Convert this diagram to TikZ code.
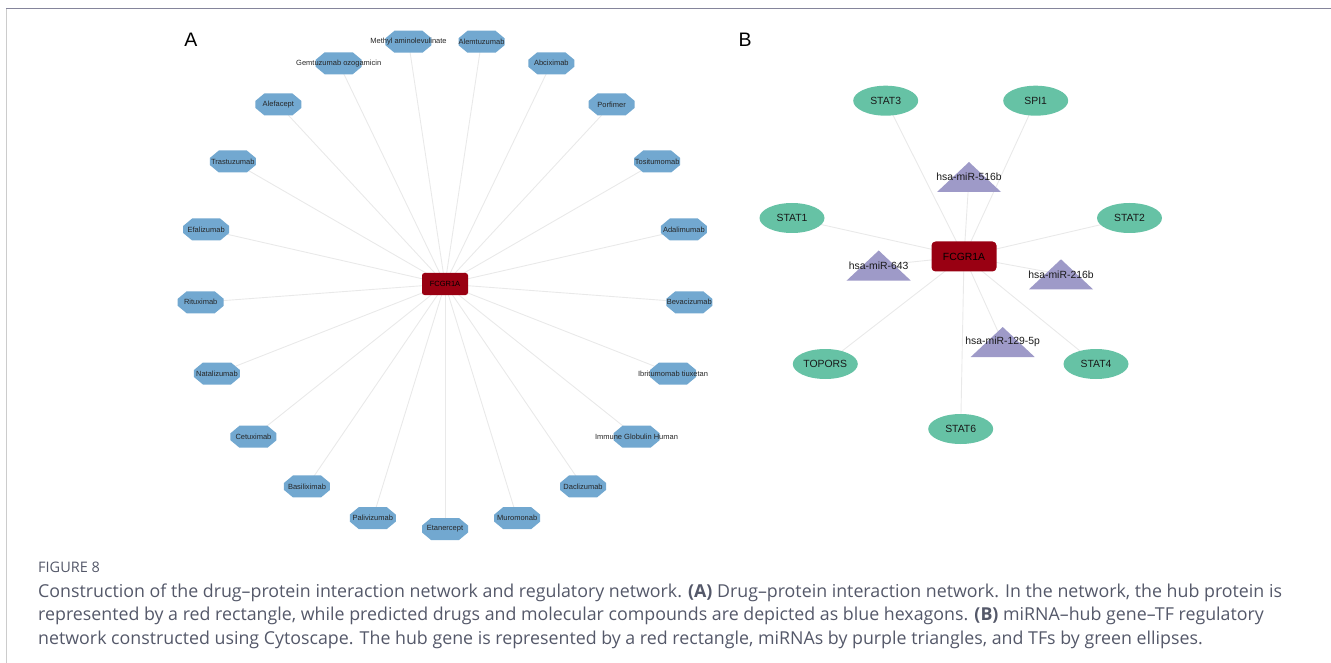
\documentclass[tikz,border=0pt]{standalone}
\usepackage{fontspec}
\setmainfont{Liberation Sans}
\newfontfamily\capfont{Open Sans}
\usetikzlibrary{calc,backgrounds,shapes.geometric}
\definecolor{octblue}{HTML}{72A8D0}
\definecolor{hubred}{HTML}{990012}
\definecolor{tfgreen}{HTML}{66C2A5}
\definecolor{mirpurple}{HTML}{9E9AC8}
\definecolor{edgegray}{HTML}{E9E9E9}
\definecolor{captext}{HTML}{545869}
\begin{document}
\begin{tikzpicture}[x=1pt,y=-1pt,
  oct/.style={minimum width=46pt, minimum height=22pt, inner sep=0pt,
    font=\fontsize{7.5}{8}\selectfont, text=black!85,
    path picture={\fill[octblue] ($(path picture bounding box.center)+(-14pt,11pt)$)
      -- ++(28pt,0pt) -- ++(9pt,-7.5pt) -- ++(0pt,-7pt) -- ++(-9pt,-7.5pt)
      -- ++(-28pt,0pt) -- ++(-9pt,7.5pt) -- ++(0pt,7pt) -- cycle;}},
  hubA/.style={fill=hubred, rounded corners=2.5pt, minimum width=46pt, minimum height=22pt,
    inner sep=0pt, font=\fontsize{7.5}{8}\selectfont, text=black},
  hubB/.style={fill=hubred, rounded corners=4pt, minimum width=65pt, minimum height=30pt,
    inner sep=0pt, font=\fontsize{10.4}{12}\selectfont, text=black},
  tf/.style={ellipse, fill=tfgreen, minimum width=65pt, minimum height=30pt, inner sep=0pt,
    font=\fontsize{10.4}{12}\selectfont, text=black!90},
  mir/.style={minimum width=64pt, minimum height=30pt, inner sep=0pt,
    font=\fontsize{10.4}{12}\selectfont, text=black!90,
    path picture={\fill[mirpurple] (path picture bounding box.south west)
      -- (path picture bounding box.south east) -- (path picture bounding box.north) -- cycle;}},
  edge/.style={draw=edgegray, line width=0.9pt},
  panel/.style={font=\fontsize{19.5}{22}\selectfont},
  captxt/.style={anchor=base west, inner sep=0pt, text=captext, font=\capfont\fontsize{17.8}{20}\selectfont},
]
\useasboundingbox (0,0) rectangle (1331,663);
% frame
\draw[draw=black!20, line width=1pt] (6.5,8) -- (6.5,663);
\draw[draw=black!45!blue!20!gray!80, line width=1.5pt] (6,8.5) -- (1331,8.5);

% panel labels
\node[panel] (labA) at (191,40) {A};
\node[panel] (labB) at (745,40) {B};

% ---------- Panel A ----------
\node[hubA] (hA) at (445,284) {FCGR1A};
\foreach \nm [count=\i from 0] in {Etanercept, Muromonab, Daclizumab, Immune Globulin Human,
  Ibritumomab tiuxetan, Bevacizumab, Adalimumab, Tositumomab, Porfimer, Abciximab,
  Alemtuzumab, Methyl aminolevulinate, Gemtuzumab ozogamicin, Alefacept, Trastuzumab,
  Efalizumab, Rituximab, Natalizumab, Cetuximab, Basiliximab, Palivizumab} {
  \node[oct] (d\i) at ({445+245*cos(270+\i*360/21)}, {284-245*sin(270+\i*360/21)}) {\makebox[0pt]{\nm}};
  \begin{scope}[on background layer]
    \draw[edge] (hA.center) -- (d\i.center);
  \end{scope}
}

% ---------- Panel B ----------
\node[hubB] (hB) at (964,256.5) {FCGR1A};
\node[tf] (stat3) at (885.7,100.7) {STAT3};
\node[tf] (spi1) at (1035.7,100.7) {SPI1};
\node[tf] (stat1) at (792,218) {STAT1};
\node[tf] (stat2) at (1129.5,218) {STAT2};
\node[tf] (topors) at (825.3,364) {TOPORS};
\node[tf] (stat4) at (1096,364) {STAT4};
\node[tf] (stat6) at (960.7,429) {STAT6};
\node[mir] (m516) at (969,177) {\makebox[0pt]{hsa-miR-516b}};
\node[mir] (m643) at (878.7,265.5) {\makebox[0pt]{hsa-miR-643}};
\node[mir] (m216) at (1061,274.3) {\makebox[0pt]{hsa-miR-216b}};
\node[mir] (m129) at (1002.7,342) {\makebox[0pt]{hsa-miR-129-5p}};
\begin{scope}[on background layer]
  \foreach \t in {stat3,spi1,stat1,stat2,topors,stat4,stat6,m516,m643,m216,m129}
    \draw[edge] (hB.center) -- (\t.center);
\end{scope}

% ---------- Caption ----------
\node[captxt, font=\capfont\fontsize{14.5}{16}\selectfont] (cap0) at (38,572.5) {FIGURE 8};
\node[captxt] (cap1) at (38,597) {Construction of the drug–protein interaction network and regulatory network. \textbf{(A)} Drug–protein interaction network. In the network, the hub protein is};
\node[captxt] (cap2) at (38,620.5) {represented by a red rectangle, while predicted drugs and molecular compounds are depicted as blue hexagons. \textbf{(B)} miRNA–hub gene–TF regulatory};
\node[captxt] (cap3) at (38,644) {network constructed using Cytoscape. The hub gene is represented by a red rectangle, miRNAs by purple triangles, and TFs by green ellipses.};
\end{tikzpicture}
\end{document}
